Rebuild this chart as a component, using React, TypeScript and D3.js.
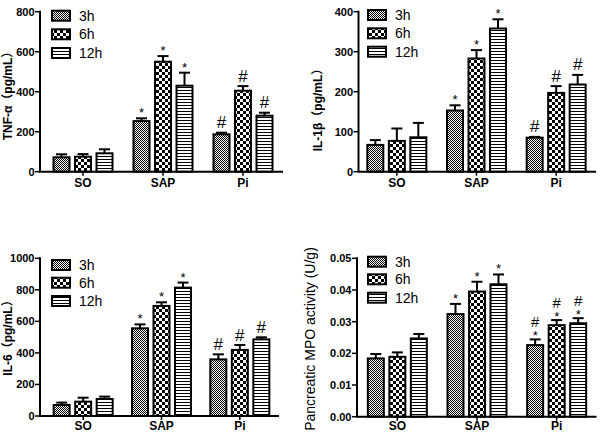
import React from "react";
import * as d3 from "d3";

const categories = ["SO", "SAP", "Pi"];
const seriesNames = ["3h", "6h", "12h"];

// values: [group][series]
const tnfMean = [[72, 75, 92], [253, 550, 430], [187, 405, 280]];
const tnfSD = [[15, 13, 20], [14, 28, 65], [8, 23, 15]];
const tnfTicks = [0, 200, 400, 600, 800];
const tnfMarks = ["", "*", "#"];

const il1Mean = [[67, 77, 86], [153, 283, 358], [85, 197, 218]];
const il1SD = [[12, 31, 36], [13, 21, 23], [2, 17, 24]];
const il1Ticks = [0, 100, 200, 300, 400];
const il1Marks = ["", "*", "#"];

const il6Mean = [[70, 91, 108], [556, 698, 814], [359, 419, 486]];
const il6SD = [[15, 25, 15], [25, 23, 32], [32, 31, 13]];
const il6Ticks = [0, 200, 400, 600, 800, 1000];
const il6Marks = ["", "*", "#"];

const mpoMean = [[0.0184, 0.0189, 0.0247], [0.0324, 0.0395, 0.0418], [0.0226, 0.0289, 0.0295]];
const mpoSD = [[0.0014, 0.0014, 0.0014], [0.0032, 0.0031, 0.0031], [0.0018, 0.0016, 0.0016]];
const mpoTicks = [0, 0.01, 0.02, 0.03, 0.04, 0.05];
const mpoMarks = ["", "*", "#*"];

const titles = ["TNF-α（pg/mL）", "IL-1β（pg/mL）", "IL-6（pg/mL）", "Pancreatic MPO activity (U/g)"];

const FONT = "'Liberation Sans', Arial, 'Noto Sans CJK SC', sans-serif";
const patternIds = ["pat3h", "pat6h", "pat12h"];

type Layout = {
  axisX: number; top: number; bottom: number; xRange: [number, number];
  legX: number; legY: number[]; titleX: number; titleY: number; labelDy: number;
  titleBold: boolean; titleSize: number; hashSize: number; fmt: (v: number) => string;
};

const layouts: Layout[] = [
  { axisX: 40, top: 11.7, bottom: 171.7, xRange: [43, 283], legX: 52, legY: [15.7, 34.3, 53], titleX: 12, titleY: 93, labelDy: 15, titleBold: true, titleSize: 12, hashSize: 17, fmt: (v) => String(v) },
  { axisX: 358.5, top: 11.7, bottom: 171.7, xRange: [357, 596], legX: 368, legY: [15, 33.3, 51.7], titleX: 322, titleY: 107, labelDy: 15, titleBold: true, titleSize: 12, hashSize: 17, fmt: (v) => String(v) },
  { axisX: 40, top: 258.3, bottom: 416, xRange: [44, 279], legX: 52, legY: [265, 282.7, 301], titleX: 12, titleY: 335, labelDy: 13.5, titleBold: true, titleSize: 12, hashSize: 17, fmt: (v) => String(v) },
  { axisX: 357, top: 258.3, bottom: 416.7, xRange: [357.5, 596.5], legX: 368, legY: [261.7, 279.3, 297.7], titleX: 315, titleY: 339, labelDy: 13, titleBold: false, titleSize: 14, hashSize: 15, fmt: d3.format(".2f") },
];

const panelData = [
  { mean: tnfMean, sd: tnfSD, ticks: tnfTicks, marks: tnfMarks },
  { mean: il1Mean, sd: il1SD, ticks: il1Ticks, marks: il1Marks },
  { mean: il6Mean, sd: il6SD, ticks: il6Ticks, marks: il6Marks },
  { mean: mpoMean, sd: mpoSD, ticks: mpoTicks, marks: mpoMarks },
];

function Panel({ idx }: { idx: number }) {
  const L = layouts[idx];
  const D = panelData[idx];
  const yMax = D.ticks[D.ticks.length - 1];
  const y = d3.scaleLinear().domain([0, yMax]).range([L.bottom, L.top]);
  const x0 = d3.scaleBand<string>().domain(categories).range(L.xRange);
  const x1 = d3.scaleBand<string>().domain(seriesNames).range([-29.5, 29.5]).paddingInner(0.256);
  const bw = x1.bandwidth();
  const center = (c: string) => (x0(c) as number) + x0.bandwidth() / 2;

  return (
    <g>
      {categories.map((c, gi) =>
        seriesNames.map((s, si) => {
          const m = D.mean[gi][si];
          const e = m + D.sd[gi][si];
          const bx = center(c) + (x1(s) as number);
          const top = y(m);
          const et = y(e);
          const cx = bx + bw / 2;
          const mark = D.marks[gi];
          return (
            <g key={c + s}>
              <line x1={cx} x2={cx} y1={top} y2={et} stroke="#000" strokeWidth={2} />
              <line x1={cx - 5.5} x2={cx + 5.5} y1={et} y2={et} stroke="#000" strokeWidth={2} />
              <rect x={bx} y={top} width={bw} height={L.bottom - top} fill={`url(#${patternIds[si]})`} stroke="#000" strokeWidth={2} />
              {mark === "*" && (
                <text x={cx} y={et - 1} textAnchor="middle" fontSize={13} fontFamily={FONT}>*</text>
              )}
              {mark === "#" && (
                <text x={cx} y={et - 4.5} textAnchor="middle" fontSize={L.hashSize} fontFamily={FONT}>#</text>
              )}
              {mark === "#*" && (
                <g>
                  <text x={cx} y={et + 1} textAnchor="middle" fontSize={13} fontFamily={FONT}>*</text>
                  <text x={cx} y={et - 12.5} textAnchor="middle" fontSize={L.hashSize} fontFamily={FONT}>#</text>
                </g>
              )}
            </g>
          );
        })
      )}
      <line x1={L.axisX} x2={L.axisX} y1={L.top - 1} y2={L.bottom} stroke="#000" strokeWidth={2} />
      {D.ticks.map((t) => (
        <g key={t}>
          <line x1={L.axisX - 5} x2={L.axisX} y1={y(t)} y2={y(t)} stroke="#000" strokeWidth={1.5} />
          <text x={L.axisX - 5.5} y={y(t) + 4} textAnchor="end" fontSize={11} fontWeight="bold" fontFamily={FONT}>
            {L.fmt(t)}
          </text>
        </g>
      ))}
      <line x1={L.axisX - 1} x2={L.xRange[1]} y1={L.bottom} y2={L.bottom} stroke="#000" strokeWidth={2} />
      {categories.map((c) => (
        <g key={c}>
          <line x1={center(c)} x2={center(c)} y1={L.bottom} y2={L.bottom + 4} stroke="#000" strokeWidth={1.5} />
          <text x={center(c)} y={L.bottom + L.labelDy} textAnchor="middle" fontSize={12} fontWeight="bold" fontFamily={FONT}>
            {c}
          </text>
        </g>
      ))}
      <text
        transform={`translate(${L.titleX},${L.titleY}) rotate(-90)`}
        textAnchor="middle"
        fontSize={L.titleSize}
        fontWeight={L.titleBold ? "bold" : "normal"}
        fontFamily={FONT}
      >
        {titles[idx]}
      </text>
      {seriesNames.map((s, si) => (
        <g key={s}>
          <rect x={L.legX} y={L.legY[si] - 5} width={18} height={10} fill={`url(#${patternIds[si]})`} stroke="#000" strokeWidth={2} />
          <text x={L.legX + 27} y={L.legY[si] + 5} fontSize={14} fontFamily={FONT}>{s}</text>
        </g>
      ))}
    </g>
  );
}

export default function App() {
  return (
    <svg width={600} height={433} style={{ position: "absolute", left: 0, top: 0, background: "#fff" }}>
      <defs>
        <pattern id="pat3h" patternUnits="userSpaceOnUse" width={2} height={2}>
          <rect width={2} height={2} fill="#fff" />
          <rect x={0} y={0} width={1} height={1} fill="#000" />
          <rect x={1} y={1} width={1} height={1} fill="#000" />
        </pattern>
        <pattern id="pat6h" patternUnits="userSpaceOnUse" width={6} height={6}>
          <rect width={6} height={6} fill="#fff" />
          <rect x={0} y={0} width={3} height={3} fill="#000" />
          <rect x={3} y={3} width={3} height={3} fill="#000" />
        </pattern>
        <pattern id="pat12h" patternUnits="userSpaceOnUse" width={3} height={3}>
          <rect width={3} height={3} fill="#fff" />
          <rect x={0} y={0} width={3} height={1} fill="#000" />
        </pattern>
      </defs>
      <rect width={600} height={433} fill="#fff" />
      {[0, 1, 2, 3].map((i) => (
        <Panel key={i} idx={i} />
      ))}
    </svg>
  );
}
